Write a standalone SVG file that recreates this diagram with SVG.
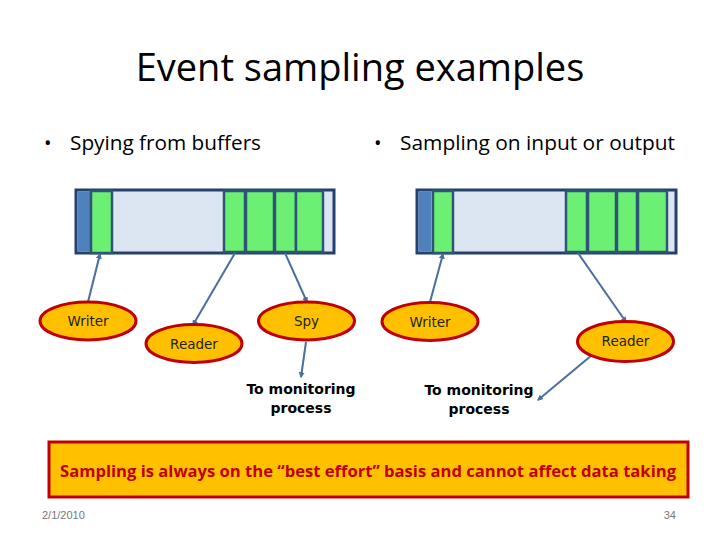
<svg xmlns="http://www.w3.org/2000/svg" width="720" height="540" viewBox="0 0 720 540">
<style>
.title{font-family:"Open Sans","Liberation Sans",sans-serif;font-size:38px;fill:#000}
.bullet{font-family:"Open Sans","Liberation Sans",sans-serif;font-size:20px;fill:#000}
.buf{fill:#dce6f2;stroke:#24406e;stroke-width:3}
.head{fill:#4f81bd}
.cell{fill:#6cf074;stroke:#2f5576;stroke-width:2.5}
.ell{fill:#ffc000;stroke:#c00000;stroke-width:3}
.lab{font-family:"Comic Sans MS","DejaVu Sans",sans-serif;font-size:13.5px;fill:#222;text-anchor:middle}
.mon{font-family:"Comic Sans MS","DejaVu Sans",sans-serif;font-size:14px;font-weight:bold;fill:#000;text-anchor:middle}
.conn line{stroke:#4a6f9c;stroke-width:2;marker-end:url(#ah)}
.foot{font-family:"Liberation Sans",sans-serif;font-size:11px;fill:#777}
</style>
<defs>
<marker id="ah" viewBox="0 0 10 10" refX="8" refY="5" markerWidth="3" markerHeight="3" orient="auto" markerUnits="strokeWidth">
<path d="M0,0 L10,5 L0,10 z" fill="#4a6f9c"/>
</marker>
</defs>
<rect width="720" height="540" fill="#fff"/>
<text class="title" x="360" y="81" text-anchor="middle">Event sampling examples</text>
<text class="bullet" x="44" y="150">•</text>
<text class="bullet" x="70" y="150" textLength="191" lengthAdjust="spacingAndGlyphs">Spying from buffers</text>
<text class="bullet" x="374" y="150">•</text>
<text class="bullet" x="400" y="150" textLength="275" lengthAdjust="spacingAndGlyphs">Sampling on input or output</text>

<g id="buffer-left">
<rect class="buf" x="76" y="190" width="258" height="63"/>
<rect class="head" x="77.5" y="191.5" width="13" height="60"/>
<rect class="cell" x="91" y="191" width="21" height="62"/>
<rect class="cell" x="224" y="191" width="21" height="61"/>
<rect class="cell" x="246" y="191" width="28" height="61"/>
<rect class="cell" x="275" y="191" width="21" height="61"/>
<rect class="cell" x="296" y="191" width="27" height="61"/>
</g>
<g id="buffer-right">
<rect class="buf" x="417" y="190" width="259" height="63"/>
<rect class="head" x="418.5" y="191.5" width="13" height="60"/>
<rect class="cell" x="433" y="191" width="20" height="62"/>
<rect class="cell" x="566" y="191" width="21" height="61"/>
<rect class="cell" x="588" y="191" width="28" height="61"/>
<rect class="cell" x="617" y="191" width="20" height="61"/>
<rect class="cell" x="638" y="191" width="29" height="61"/>
</g>

<g id="connectors" class="conn">
<line x1="88" y1="302" x2="100" y2="254"/>
<line x1="235" y1="253" x2="193" y2="325"/>
<line x1="285" y1="253" x2="307" y2="302"/>
<line x1="306" y1="342" x2="301" y2="377"/>
<line x1="430" y1="302" x2="443" y2="254"/>
<line x1="578" y1="253" x2="626" y2="322"/>
<line x1="592" y1="355" x2="538" y2="400"/>
</g>

<g id="writer-left">
<ellipse class="ell" cx="88" cy="321" rx="48" ry="19"/>
<text class="lab" x="88" y="326">Writer</text>
</g>
<g id="reader-left">
<ellipse class="ell" cx="194" cy="343.5" rx="48" ry="19"/>
<text class="lab" x="194" y="349">Reader</text>
</g>
<g id="spy">
<ellipse class="ell" cx="306.5" cy="321" rx="48" ry="19"/>
<text class="lab" x="306.5" y="326">Spy</text>
</g>
<g id="monitor-left">
<text class="mon" x="301" y="394">To monitoring</text>
<text class="mon" x="301" y="413">process</text>
</g>
<g id="writer-right">
<ellipse class="ell" cx="430" cy="321.5" rx="48" ry="19"/>
<text class="lab" x="430" y="327">Writer</text>
</g>
<g id="reader-right">
<ellipse class="ell" cx="625.5" cy="341.5" rx="48" ry="20"/>
<text class="lab" x="625.5" y="346">Reader</text>
</g>
<g id="monitor-right">
<text class="mon" x="479" y="395">To monitoring</text>
<text class="mon" x="479" y="414">process</text>
</g>

<g id="note">
<rect x="49" y="442" width="639" height="55" fill="#ffc000" stroke="#c00000" stroke-width="3"/>
<text x="368" y="477" text-anchor="middle" font-family="'Open Sans','Liberation Sans',sans-serif" font-size="16.5" font-weight="bold" fill="#c00000" textLength="616" lengthAdjust="spacingAndGlyphs">Sampling is always on the “best effort” basis and cannot affect data taking</text>
</g>
<text class="foot" x="42" y="519">2/1/2010</text>
<text class="foot" x="676" y="519" text-anchor="end">34</text>
</svg>
